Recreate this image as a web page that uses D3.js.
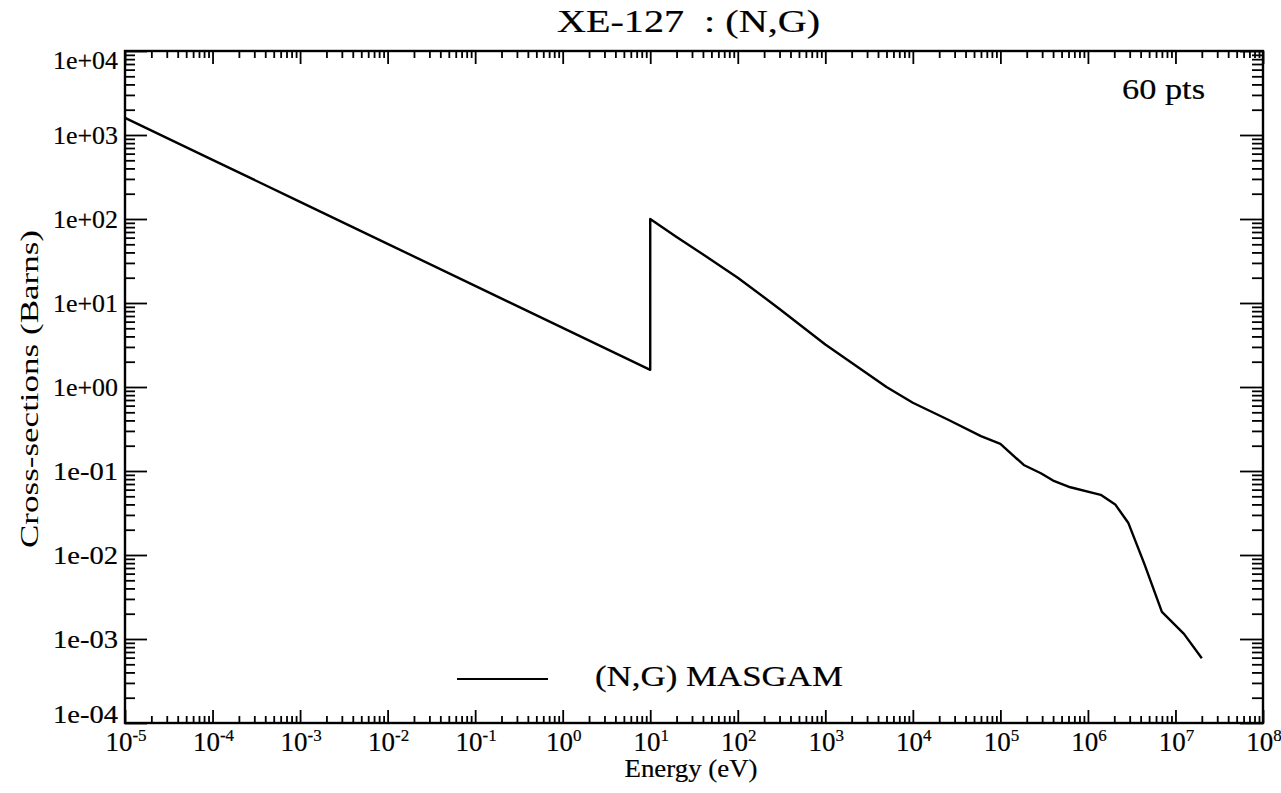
<!DOCTYPE html>
<html>
<head>
<meta charset="utf-8">
<script src="https://cdn.jsdelivr.net/npm/d3@7"></script>
<style>
  html, body { margin: 0; padding: 0; background: #fff; }
  svg { display: block; }
  text { font-family: "Liberation Serif", "DejaVu Serif", serif; fill: #000; stroke: #000; stroke-width: 0.2px; }
</style>
</head>
<body>
<svg id="chart" width="1281" height="793"></svg>
<script>
// ---- Data ----
const energy = [1e-5, 1e-4, 1e-3, 1e-2, 1e-1, 1, 10, 10, 20, 44, 100, 300, 1000, 3000, 5000,
  1e4, 2.5e4, 6e4, 1e5, 1.85e5, 2.9e5, 4e5, 6.3e5, 1.4e6, 2.05e6, 2.9e6, 4.4e6, 7e6, 1.25e7, 2e7];
const crossSection = [1600, 506, 160, 50.6, 16, 5.06, 1.6, 100, 61, 35.6, 20, 8.5, 3.2, 1.45, 1.0,
  0.65, 0.41, 0.26, 0.21, 0.118, 0.094, 0.077, 0.064, 0.052, 0.040, 0.024, 0.0079, 0.0021, 0.00115, 0.00059];
const xDomain = [1e-5, 1e8];
const yDomain = [1e-4, 1e4];
const xExponents = [-5, -4, -3, -2, -1, 0, 1, 2, 3, 4, 5, 6, 7, 8];
const yTickLabels = ["1e-04", "1e-03", "1e-02", "1e-01", "1e+00", "1e+01", "1e+02", "1e+03", "1e+04"];
const titleText = "XE-127 \u00a0: (N,G)";
const legendLabel = "(N,G) MASGAM";
const pointsLabel = "60 pts";
const xTitle = "Energy (eV)";
const yTitle = "Cross-sections (Barns)";

// ---- Layout ----
const L = 125, R = 1263, T = 51, B = 723;
const svg = d3.select("#chart");
const x = d3.scaleLog().domain(xDomain).range([L, R]);
const y = d3.scaleLog().domain(yDomain).range([B, T]);

const xMajors = xExponents.map(e => Math.pow(10, e));
const yMajors = d3.range(-4, 5).map(e => Math.pow(10, e));
function minorsOf(majors) {
  const out = [];
  majors.slice(0, -1).forEach(m => { for (let k = 2; k <= 9; k++) out.push(m * k); });
  return out;
}
const xMinors = minorsOf(xMajors);
const yMinors = minorsOf(yMajors);

function styleAxis(g) {
  g.select(".domain").remove();
  g.selectAll(".tick line").attr("stroke", "#000").attr("stroke-width", 1.8);
  g.selectAll(".tick text").remove();
}

// bottom
svg.append("g").attr("transform", `translate(0,${B})`)
  .call(d3.axisBottom(x).tickValues(xMajors).tickSize(-13).tickFormat("")).call(styleAxis);
svg.append("g").attr("transform", `translate(0,${B})`)
  .call(d3.axisBottom(x).tickValues(xMinors).tickSize(-7).tickFormat("")).call(styleAxis);
// top
svg.append("g").attr("transform", `translate(0,${T})`)
  .call(d3.axisTop(x).tickValues(xMajors).tickSize(-13).tickFormat("")).call(styleAxis);
svg.append("g").attr("transform", `translate(0,${T})`)
  .call(d3.axisTop(x).tickValues(xMinors).tickSize(-7).tickFormat("")).call(styleAxis);
// left
svg.append("g").attr("transform", `translate(${L},0)`)
  .call(d3.axisLeft(y).tickValues(yMajors).tickSize(-22).tickFormat("")).call(styleAxis);
svg.append("g").attr("transform", `translate(${L},0)`)
  .call(d3.axisLeft(y).tickValues(yMinors).tickSize(-10).tickFormat("")).call(styleAxis);
// right
svg.append("g").attr("transform", `translate(${R},0)`)
  .call(d3.axisRight(y).tickValues(yMajors).tickSize(-23).tickFormat("")).call(styleAxis);
svg.append("g").attr("transform", `translate(${R},0)`)
  .call(d3.axisRight(y).tickValues(yMinors).tickSize(-11).tickFormat("")).call(styleAxis);

// frame
svg.append("rect").attr("x", L).attr("y", T).attr("width", R - L).attr("height", B - T)
  .attr("fill", "none").attr("stroke", "#000").attr("stroke-width", 2.4);

// x tick labels 10^n
const xl = svg.append("g");
xExponents.forEach((e, i) => {
  const t = xl.append("text").attr("x", x(xMajors[i]) + 1).attr("y", 751)
    .attr("text-anchor", "middle").attr("font-size", 27);
  t.append("tspan").text("10");
  t.append("tspan").attr("font-size", 17).attr("dy", -10).text(String(e));
});

// y tick labels
yTickLabels.forEach((s, i) => {
  let by = y(yMajors[i]) + 9;
  if (i === 0) by = B;
  if (i === yTickLabels.length - 1) by = T + 18;
  svg.append("text").attr("x", 118).attr("y", by).attr("text-anchor", "end")
    .attr("font-size", 25).attr("textLength", 65).attr("lengthAdjust", "spacingAndGlyphs").text(s);
});

// curve
const pts = energy.map((e, i) => [e, crossSection[i]]);
svg.append("path").datum(pts)
  .attr("fill", "none").attr("stroke", "#000").attr("stroke-width", 2.4).attr("stroke-linejoin", "round")
  .attr("d", d3.line().x(d => x(d[0])).y(d => y(d[1])));

// title
svg.append("text").attr("x", 557).attr("y", 32).attr("font-size", 32)
  .attr("textLength", 263).attr("lengthAdjust", "spacingAndGlyphs").text(titleText);

// points label
svg.append("text").attr("x", 1122).attr("y", 99).attr("font-size", 30)
  .attr("textLength", 83).attr("lengthAdjust", "spacingAndGlyphs").text(pointsLabel);

// legend
svg.append("line").attr("x1", 457).attr("x2", 548).attr("y1", 679).attr("y2", 679)
  .attr("stroke", "#000").attr("stroke-width", 2.2);
svg.append("text").attr("x", 595).attr("y", 686).attr("font-size", 30)
  .attr("textLength", 248).attr("lengthAdjust", "spacingAndGlyphs").text(legendLabel);

// axis titles
svg.append("text").attr("x", 691).attr("y", 777).attr("text-anchor", "middle").attr("font-size", 25)
  .attr("textLength", 133).attr("lengthAdjust", "spacingAndGlyphs").text(xTitle);
svg.append("text").attr("transform", "translate(38,389) rotate(-90)").attr("text-anchor", "middle")
  .attr("font-size", 25).attr("textLength", 318).attr("lengthAdjust", "spacingAndGlyphs")
  .style("stroke-width", "0px").text(yTitle);
</script>
</body>
</html>
